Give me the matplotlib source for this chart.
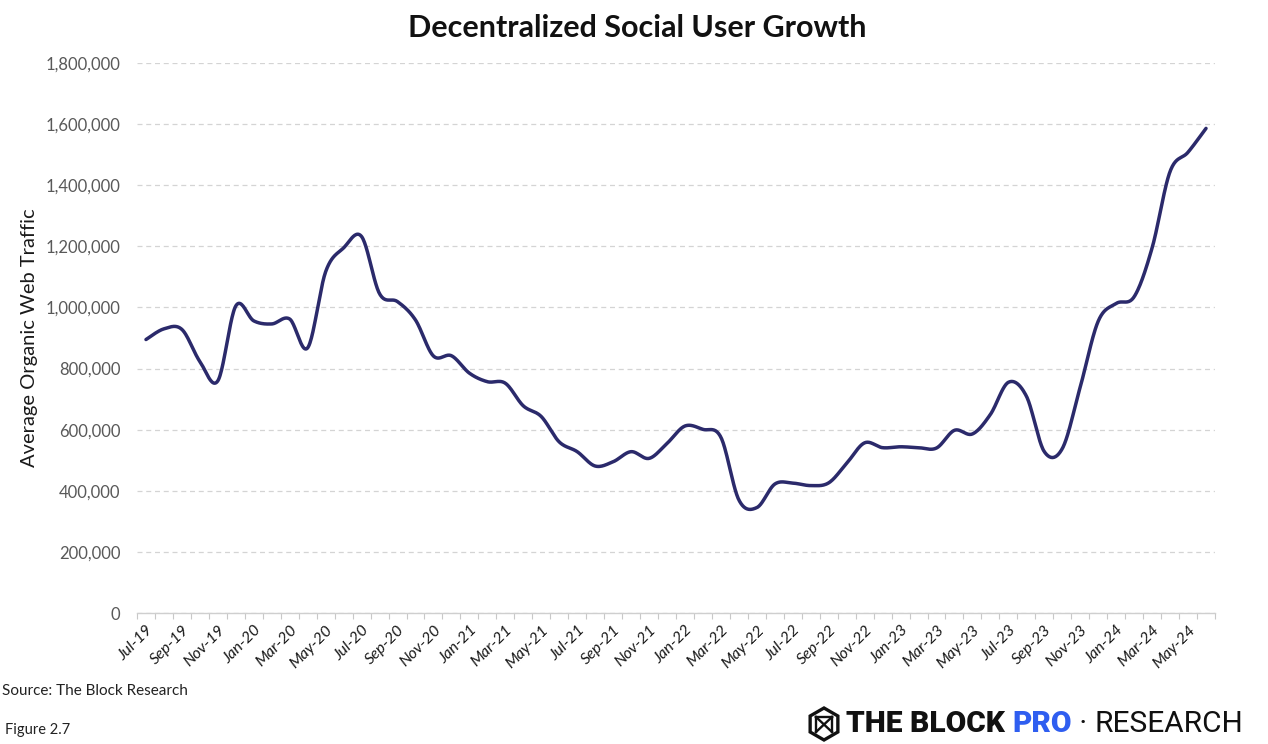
import numpy as np
import matplotlib
matplotlib.use("Agg")
import matplotlib.pyplot as plt
from matplotlib.ticker import FixedLocator, FuncFormatter, MultipleLocator
from matplotlib.patches import RegularPolygon
from matplotlib.lines import Line2D

# ---- data -------------------------------------------------------------
months = [
    "Jul-19", "Aug-19", "Sep-19", "Oct-19", "Nov-19", "Dec-19",
    "Jan-20", "Feb-20", "Mar-20", "Apr-20", "May-20", "Jun-20",
    "Jul-20", "Aug-20", "Sep-20", "Oct-20", "Nov-20", "Dec-20",
    "Jan-21", "Feb-21", "Mar-21", "Apr-21", "May-21", "Jun-21",
    "Jul-21", "Aug-21", "Sep-21", "Oct-21", "Nov-21", "Dec-21",
    "Jan-22", "Feb-22", "Mar-22", "Apr-22", "May-22", "Jun-22",
    "Jul-22", "Aug-22", "Sep-22", "Oct-22", "Nov-22", "Dec-22",
    "Jan-23", "Feb-23", "Mar-23", "Apr-23", "May-23", "Jun-23",
    "Jul-23", "Aug-23", "Sep-23", "Oct-23", "Nov-23", "Dec-23",
    "Jan-24", "Feb-24", "Mar-24", "Apr-24", "May-24", "Jun-24",
]

traffic = [
    895000, 930000, 928000, 823000, 760000, 1005000,
    956000, 946000, 962000, 868000, 1117000, 1195000,
    1232000, 1045000, 1019000, 959000, 841000, 842000,
    785000, 757000, 752000, 678000, 643000, 560000,
    528000, 481000, 495000, 528000, 506000, 555000,
    612000, 601000, 575000, 370000, 345000, 422000,
    425000, 417000, 426000, 490000, 557000, 541000,
    544000, 541000, 540000, 598000, 586000, 650000,
    755000, 710000, 528000, 538000, 740000, 955000,
    1013000, 1035000, 1195000, 1445000, 1508000, 1586000,
]

title = "Decentralized Social User Growth"
y_label = "Average Organic Web Traffic"

LINE = "#2b2a6b"
GRID = "#d4d4d4"
TICK_GREY = "#595959"


def smooth(xv, yv, steps=24):
    """Catmull-Rom curve through every point (like a smoothed line chart)."""
    xv = np.asarray(xv, float)
    yv = np.asarray(yv, float)
    px = np.concatenate([[xv[0]], xv, [xv[-1]]])
    py = np.concatenate([[yv[0]], yv, [yv[-1]]])
    out_x, out_y = [], []
    t = np.linspace(0, 1, steps, endpoint=False)
    for i in range(1, len(px) - 2):
        for p, out in ((px, out_x), (py, out_y)):
            p0, p1, p2, p3 = p[i - 1], p[i], p[i + 1], p[i + 2]
            seg = 0.5 * ((2 * p1) + (-p0 + p2) * t
                         + (2 * p0 - 5 * p1 + 4 * p2 - p3) * t ** 2
                         + (-p0 + 3 * p1 - 3 * p2 + p3) * t ** 3)
            out.extend(seg)
    out_x.append(xv[-1])
    out_y.append(yv[-1])
    return np.array(out_x), np.array(out_y)


W, H = 1268, 744
fig = plt.figure(figsize=(W / 100, H / 100), dpi=100)
fig.patch.set_facecolor("white")

ax = fig.add_axes([137 / W, 1 - 613 / H, (1215 - 137) / W, (613 - 63) / H])

x = np.arange(len(months))
sx, sy = smooth(x, traffic)
ax.plot(sx, sy, color=LINE, lw=2.5, solid_capstyle="round", zorder=3)

ax.set_xlim(-0.5, len(months) - 0.5)
ax.set_ylim(0, 1800000)

# y axis
ax.yaxis.set_major_locator(MultipleLocator(200000))
ax.yaxis.set_major_formatter(FuncFormatter(lambda v, _: f"{int(v):,}"))
ax.yaxis.grid(True, linestyle=(0, (4, 3)), color=GRID, lw=0.9)
ax.set_axisbelow(True)
ax.tick_params(axis="y", length=0, pad=12, labelsize=12, labelcolor=TICK_GREY)
for lab in ax.get_yticklabels():
    lab.set_fontfamily("Lato")

# x axis: labels every second month, tick marks between categories
label_pos = x[::2]
ax.xaxis.set_major_locator(FixedLocator(label_pos))
ax.set_xticklabels([months[i] for i in label_pos], rotation=45, ha="right",
                   rotation_mode="anchor", fontsize=11.5, fontfamily="Lato",
                   color="#1a1a1a", fontstyle="italic")
ax.tick_params(axis="x", which="major", length=0, pad=7)
ax.xaxis.set_minor_locator(FixedLocator(np.arange(-0.5, len(months), 1.0)))
ax.tick_params(axis="x", which="minor", length=4, width=0.8, color="#c8c8c8")

for side in ("top", "right", "left"):
    ax.spines[side].set_visible(False)
ax.spines["bottom"].set_color("#cfcfcf")
ax.spines["bottom"].set_linewidth(1.0)

ax.set_ylabel(y_label, fontsize=14.5, fontfamily="Lato", color="#1a1a1a")
ax.yaxis.set_label_coords((38 - 137) / (1215 - 137), 0.5)

fig.text(637 / W, 1 - 28 / H, title, ha="center", va="center",
         fontsize=22, fontweight="bold", fontfamily="Lato", color="#111111")

# footer
fig.text(2 / W, 1 - 691 / H, "Source: The Block Research", ha="left",
         va="center", fontsize=11, fontfamily="Lato", color="#222222")
fig.text(5 / W, 1 - 730 / H, "Figure 2.7", ha="left", va="center",
         fontsize=10.5, fontfamily="Lato", color="#222222")

# brand mark: hexagonal cube icon + wordmark
cx, cy, r = 824, 724, 16
icon_ax = fig.add_axes([0, 0, 1, 1], facecolor="none")
icon_ax.set_xlim(0, W)
icon_ax.set_ylim(H, 0)
icon_ax.axis("off")
icon_ax.add_patch(RegularPolygon((cx, cy), 6, radius=r, orientation=0,
                                 fill=False, ec="#111111", lw=2.4))
for (x0, y0), (x1, y1) in [((cx - 8, cy - 7), (cx + 8, cy - 7)),
                           ((cx - 8, cy - 7), (cx - 8, cy + 8)),
                           ((cx + 8, cy - 7), (cx + 8, cy + 8)),
                           ((cx - 8, cy - 7), (cx + 8, cy + 8)),
                           ((cx + 8, cy - 7), (cx - 8, cy + 8))]:
    icon_ax.add_line(Line2D([x0, x1], [y0, y1], color="#111111", lw=1.7))

renderer = fig.canvas.get_renderer()
xpos = 846
ypos = 1 - 724 / H
pieces = [("THE BLOCK ", "#111111", "heavy"),
          ("PRO", "#2f5ef0", "heavy"),
          (" \u00b7 ", "#111111", "normal"),
          ("RESEARCH", "#111111", "normal")]
for txt, col, wt in pieces:
    t = fig.text(xpos / W, ypos, txt, ha="left", va="center", fontsize=21.5,
                 fontfamily="Roboto", fontweight=wt, color=col)
    bb = t.get_window_extent(renderer=renderer)
    xpos += bb.width

fig.savefig("out.png", dpi=100, facecolor="white")
